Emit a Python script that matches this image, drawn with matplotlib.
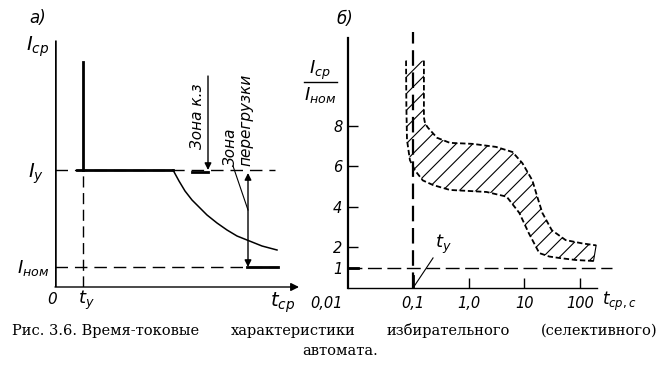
import matplotlib
matplotlib.use("Agg")
import matplotlib.pyplot as plt
import numpy as np
from matplotlib.transforms import ScaledTranslation

W, H = 660, 370
fig = plt.figure(figsize=(W / 100, H / 100), dpi=100)
fig.patch.set_facecolor("white")
plt.rcParams["hatch.linewidth"] = 0.8

def fx(x):
    return x / W

def fy(y):
    return 1 - y / H

# ---------------- data ----------------
# panel a) schematic levels (schematic units)
a_t_y = 28
a_I_y = 117
a_I_nom = 20
a_curve_t = [118, 124, 130, 137, 145, 152, 162, 172, 182, 192, 207, 222]
a_curve_i = [117, 106, 96, 87, 79, 72, 64, 57, 51, 47, 41, 37]

# panel б) time-current band
band_lo_t = [0.075, 0.076, 0.078, 0.088, 0.108, 0.15, 0.23, 0.46, 1.0, 2.1, 4.8, 8.1, 12, 18.5, 28, 42, 83, 174]
band_lo_i = [11.2, 9.0, 7.3, 6.3, 5.8, 5.3, 5.07, 4.83, 4.78, 4.73, 4.5, 3.7, 2.7, 1.72, 1.55, 1.48, 1.38, 1.33]
band_hi_t = [0.157, 0.157, 0.165, 0.185, 0.27, 0.46, 1.18, 3.1, 6.1, 9.2, 13.9, 17, 21, 31, 55, 108, 194]
band_hi_i = [11.2, 8.4, 8.1, 7.9, 7.4, 7.15, 7.1, 6.95, 6.7, 6.15, 5.3, 4.5, 3.7, 2.85, 2.36, 2.2, 2.1]
b_t_y = 0.1
b_I_nom = 1
x_ticks = [0.01, 0.1, 1, 10, 100]
x_tick_labels = ["0,01", "0,1", "1,0", "10", "100"]
y_ticks = [1, 2, 4, 6, 8]
y_tick_labels = ["1", "2", "4", "6", "8"]

lab_font = dict(family="DejaVu Sans", style="italic")

# ---------------- panel a ----------------
axL, axR_px, axB, axT = 55, 300, 287, 40
ax1 = fig.add_axes([fx(axL), fy(axB), fx(axR_px - axL), (axB - axT) / H])
ax1.set_xlim(0, axR_px - axL)
ax1.set_ylim(0, axB - axT)
ax1.axis("off")
ax1.patch.set_alpha(0)

# y axis
ax1.plot([0, 0], [0, 247], color="black", lw=1.8, solid_capstyle="butt")
# x axis with arrow
ax1.annotate("", xy=(244, 0), xytext=(0, 0),
             arrowprops=dict(arrowstyle="-|>", color="black", lw=1.0,
                             mutation_scale=12, shrinkA=0, shrinkB=0))
# t_y line
ax1.plot([a_t_y, a_t_y], [a_I_y, 225], color="black", lw=2.0)
ax1.plot([a_t_y, a_t_y], [0, a_I_y], color="black", lw=1.0, ls=(0, (8, 4)))
# I_y dashed + solid
ax1.plot([0, 220], [a_I_y, a_I_y], color="black", lw=1.0, ls=(0, (9, 5)))
ax1.plot([22, 118], [a_I_y, a_I_y], color="black", lw=2.0)
ax1.plot([137, 153], [a_I_y - 1.5, a_I_y - 1.5], color="black", lw=2.0)
# curve
ax1.plot(a_curve_t, a_curve_i, color="black", lw=1.1)
# I_nom
ax1.plot([0, 223], [a_I_nom, a_I_nom], color="black", lw=1.0, ls=(0, (9, 5)))
ax1.plot([192, 223], [a_I_nom, a_I_nom], color="black", lw=2.0)
# zone k.z arrow
ax1.annotate("", xy=(153, a_I_y), xytext=(153, 211),
             arrowprops=dict(arrowstyle="-|>", color="black", lw=1.0,
                             mutation_scale=10, shrinkA=0, shrinkB=0))
# overload double arrow
ax1.annotate("", xy=(193, a_I_nom), xytext=(193, a_I_y - 3),
             arrowprops=dict(arrowstyle="<|-|>", color="black", lw=1.0,
                             mutation_scale=10, shrinkA=0, shrinkB=0))
# leader
ax1.plot([178, 193], [121, 77], color="black", lw=0.8)
ax1.text(143, 171, "Зона к.з", rotation=90, ha="center", va="center",
         fontsize=11, **lab_font)
ax1.text(183, 121, "Зона\nперегрузки", rotation=90, ha="center", va="bottom",
         fontsize=11, linespacing=1.05, multialignment="left", **lab_font)

fig.text(fx(38), fy(18), "а)", fontsize=12, ha="center", va="center", **lab_font)
fig.text(fx(38), fy(47), r"$I_{ср}$", fontsize=14, ha="center", va="center")
fig.text(fx(36), fy(174), r"$I_{у}$", fontsize=14, ha="center", va="center")
fig.text(fx(33), fy(268), r"$I_{ном}$", fontsize=13, ha="center", va="center")
fig.text(fx(52), fy(300), "0", fontsize=11, ha="center", va="center", **lab_font)
fig.text(fx(86), fy(300), r"$t_{у}$", fontsize=13, ha="center", va="center")
fig.text(fx(283), fy(303), r"$t_{ср}$", fontsize=14, ha="center", va="center")

# ---------------- panel b ----------------
bL, bR, bB, bT = 348, 625, 288, 38
dec = 55.7
x0 = 10 ** (-1 + (bL - 413) / dec)
x1 = 10 ** (-1 + (bR - 413) / dec)
ax2 = fig.add_axes([fx(bL), fy(bB), fx(bR - bL), (bB - bT) / H])
ax2.set_xscale("log")
ax2.set_xlim(x0, x1)
ax2.set_ylim(0, (bB - bT) / 20.3)
ax2.patch.set_alpha(0)
for s in ["top", "right"]:
    ax2.spines[s].set_visible(False)
ax2.spines["left"].set_linewidth(1.6)
ax2.spines["bottom"].set_linewidth(1.0)
ax2.spines["bottom"].set_bounds(x0, 200)

ax2.set_xticks(x_ticks)
ax2.set_xticklabels(x_tick_labels, fontsize=10.5, **lab_font)
ax2.xaxis.set_minor_locator(matplotlib.ticker.NullLocator())
ax2.tick_params(axis="x", direction="in", length=7, width=1, pad=6)
xt = ax2.xaxis.get_major_ticks()
xt[0].tick1line.set_visible(False)
xt[1].tick1line.set_visible(False)
for lab in ax2.get_xticklabels():
    if lab.get_text() == "0,01":
        lab.set_transform(lab.get_transform() + ScaledTranslation(-0.31, 0, fig.dpi_scale_trans))

ax2.set_yticks(y_ticks)
ax2.set_yticklabels(y_tick_labels, fontsize=10.5, **lab_font)
ax2.tick_params(axis="y", direction="in", length=7, width=1, pad=4)

# band fill
poly_t = band_lo_t + band_hi_t[::-1]
poly_i = band_lo_i + band_hi_i[::-1]
ax2.fill(poly_t, poly_i, facecolor="none", edgecolor="black", hatch="//", linewidth=0)
ax2.plot(band_lo_t, band_lo_i, color="black", lw=1.3, ls=(0, (3, 1.5)))
ax2.plot(band_hi_t, band_hi_i, color="black", lw=1.3, ls=(0, (3, 1.5)))
ax2.plot([band_lo_t[-1], band_hi_t[-1]], [band_lo_i[-1], band_hi_i[-1]],
         color="black", lw=0.8)

# t_y dashed vertical
ax2.plot([b_t_y, b_t_y], [0, 12.6], color="black", lw=1.6, ls=(0, (7, 3)),
         clip_on=False)
ax2.plot([b_t_y, b_t_y], [0, 0.6], color="black", lw=2.0)
# I_nom dashed horizontal
ax2.plot([x0, 10 ** (-1 + (612 - 413) / dec)], [b_I_nom, b_I_nom], color="black",
         lw=1.0, ls=(0, (10, 4)))
ax2.plot([x0, 10 ** (-1 + (358 - 413) / dec)], [b_I_nom, b_I_nom], color="black", lw=2.0)
# t_y leader
ax2.plot([b_t_y, 0.229], [0, 1.48], color="black", lw=0.8)
ax2.text(0.25, 1.6, r"$t_{у}$", fontsize=13, ha="left", va="bottom")

fig.text(fx(345), fy(19), "б)", fontsize=12, ha="center", va="center", **lab_font)
fig.text(fx(320), fy(70), r"$I_{ср}$", fontsize=13, ha="center", va="center")
fig.add_artist(plt.Line2D([fx(304), fx(337)], [fy(82), fy(82)], color="black", lw=1.0))
fig.text(fx(320), fy(95), r"$I_{ном}$", fontsize=13, ha="center", va="center")
fig.text(fx(602), fy(301), r"$t_{ср,с}$", fontsize=12, ha="left", va="center")

# ---------------- caption ----------------
cap_words = ["Рис. 3.6. Время-токовые", "характеристики", "избирательного", "(селективного)"]
cap_font = dict(family="DejaVu Serif", fontsize=10.5, va="center")
texts = [fig.text(0, fy(331), w, ha="left", **cap_font) for w in cap_words]
fig.canvas.draw()
r = fig.canvas.get_renderer()
widths = [t.get_window_extent(r).width for t in texts]
left, right = 12, 658
gap = (right - left - sum(widths)) / (len(widths) - 1)
x = left
for t, w in zip(texts, widths):
    t.set_x(fx(x))
    x += w + gap
fig.text(fx(340), fy(351), "автомата.", ha="center", **cap_font)

fig.savefig("out.png", dpi=100, facecolor="white")
